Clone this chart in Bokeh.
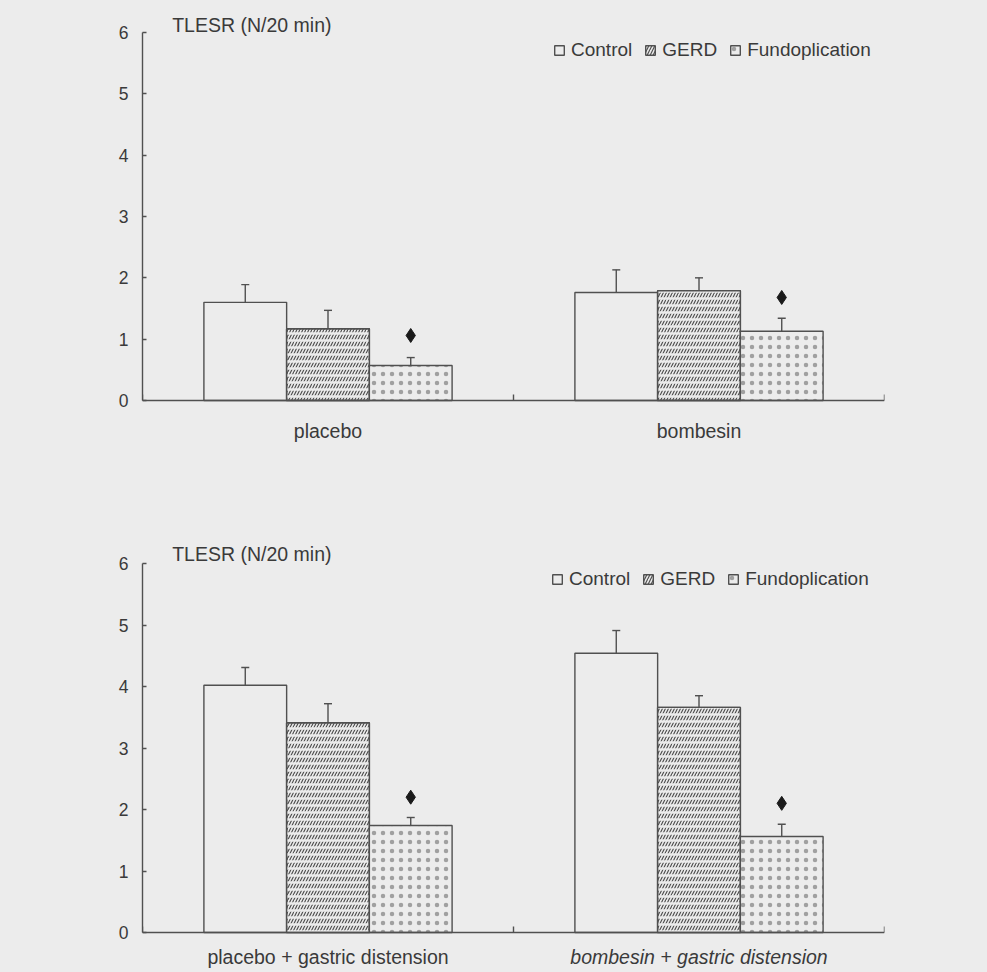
from bokeh.plotting import figure
from bokeh.models import Range1d, FixedTicker, Legend, LegendItem, ColumnDataSource
from bokeh.core.properties import value
from bokeh.layouts import column
from bokeh.embed import file_html
from bokeh.resources import INLINE

# ---------------- data ----------------
series = ["Control", "GERD", "Fundoplication"]
y_ticks = [0, 1, 2, 3, 4, 5, 6]
y_title = "TLESR (N/20 min)"

top_groups = ["placebo", "bombesin"]
top_control = [1.60, 1.76]
top_gerd = [1.17, 1.79]
top_fundo = [0.57, 1.13]
top_control_upper = [1.89, 2.13]
top_gerd_upper = [1.47, 2.00]
top_fundo_upper = [0.70, 1.34]
top_marker = [1.06, 1.68]

bottom_groups = ["placebo + gastric distension", "bombesin + gastric distension"]
bottom_control = [4.02, 4.54]
bottom_gerd = [3.41, 3.66]
bottom_fundo = [1.74, 1.56]
bottom_control_upper = [4.31, 4.91]
bottom_gerd_upper = [3.72, 3.85]
bottom_fundo_upper = [1.87, 1.76]
bottom_marker = [2.20, 2.10]

BG = "#ececec"
INK = "#505050"
TXT = "#3a3a3a"
FONT = "Liberation Sans"
PANEL_H = 486


def make_panel(groups, ctrl, gerd, fundo, ctrl_up, gerd_up, fundo_up, marker,
               left, frame_w, zero_px, px_per_unit, title_px, label_px,
               legend_loc, label_styles):
    y0 = -(PANEL_H - zero_px) / px_per_unit
    y1 = zero_px / px_per_unit
    p = figure(width=987, height=PANEL_H, output_backend="svg", toolbar_location=None,
               x_range=Range1d(0, 2), y_range=Range1d(y0, y1),
               min_border_top=0, min_border_bottom=0,
               min_border_left=left, min_border_right=987 - left - frame_w)
    p.background_fill_color = BG
    p.border_fill_color = BG
    p.outline_line_color = None
    p.grid.visible = False

    n = len(groups)
    w = 0.223
    offs = [-w, 0.0, w]
    xs = [[i + 0.5 + o for i in range(n)] for o in offs]

    r_ctrl = p.vbar(x=xs[0], top=ctrl, width=w, bottom=0, fill_color=BG,
                    line_color=INK, line_width=1.4)
    r_gerd = p.vbar(x=xs[1], top=gerd, width=w, bottom=0, fill_color=BG,
                    line_color=INK, line_width=1.4, hatch_pattern="/",
                    hatch_scale=6, hatch_color="#505050", hatch_weight=1.2)
    p.vbar(x=xs[1], top=gerd, width=w, bottom=0, fill_alpha=0, line_color=None,
           hatch_pattern="-", hatch_scale=7, hatch_color=BG, hatch_weight=2.5)
    p.vbar(x=xs[1], top=gerd, width=w, bottom=0, fill_alpha=0,
           line_color=INK, line_width=1.4)
    r_fundo = p.vbar(x=xs[2], top=fundo, width=w, bottom=0, fill_color=BG,
                     line_color=INK, line_width=1.4, hatch_pattern=".",
                     hatch_scale=9, hatch_color="#a0a0a0", hatch_weight=1.0)

    for x, lo, hi in ((xs[0], ctrl, ctrl_up), (xs[1], gerd, gerd_up), (xs[2], fundo, fundo_up)):
        p.segment(x0=x, y0=lo, x1=x, y1=hi, line_color=INK, line_width=1.4)
        p.scatter(x=x, y=hi, marker="dash", size=8, line_color=INK, line_width=1.4)

    p.scatter(x=xs[2], y=marker, marker="diamond", size=14,
              fill_color="#1a1a1a", line_color="#1a1a1a")

    # y axis
    p.yaxis.ticker = FixedTicker(ticks=y_ticks)
    p.yaxis.bounds = (0, 6)
    p.yaxis.major_tick_in = 4
    p.yaxis.major_tick_out = 0
    p.yaxis.minor_tick_line_color = None
    p.yaxis.major_label_standoff = 14
    p.yaxis.major_label_text_font = FONT
    p.yaxis.major_label_text_font_size = "17.5px"
    p.yaxis.major_label_text_color = TXT

    # x axis drawn at y = 0
    p.xaxis.fixed_location = 0
    p.xaxis.ticker = FixedTicker(ticks=[0, 1, 2])
    p.xaxis.major_tick_in = 6
    p.xaxis.major_tick_out = 0
    p.xaxis.minor_tick_line_color = None
    p.xaxis.major_label_overrides = {0: "", 1: "", 2: ""}
    p.xaxis.major_label_text_font_size = "0px"
    p.xaxis.major_label_standoff = 0
    for ax in (p.xaxis, p.yaxis):
        ax.axis_line_color = INK
        ax.axis_line_width = 1.4
        ax.major_tick_line_color = INK
        ax.major_tick_line_width = 1.4

    # texts
    tsrc = ColumnDataSource(dict(x=[0.08], y=[(zero_px - title_px) / px_per_unit], t=[y_title]))
    p.text(x="x", y="y", text="t", source=tsrc, text_font=value(FONT),
           text_font_size="19.5px", text_color=TXT, text_baseline="middle", text_align="left")
    lsrc = ColumnDataSource(dict(x=[i + 0.5 for i in range(n)],
                                 y=[(zero_px - label_px) / px_per_unit] * n,
                                 t=groups, s=label_styles))
    p.text(x="x", y="y", text="t", source=lsrc, text_font=value(FONT),
           text_font_style="s", text_font_size="19.5px", text_color=TXT,
           text_baseline="middle", text_align="center")

    legend = Legend(items=[LegendItem(label=series[0], renderers=[r_ctrl]),
                           LegendItem(label=series[1], renderers=[r_gerd]),
                           LegendItem(label=series[2], renderers=[r_fundo])],
                    orientation="horizontal", location=legend_loc,
                    glyph_width=12, glyph_height=12, label_standoff=6, spacing=12,
                    padding=0, margin=0, border_line_color=None,
                    background_fill_alpha=0, label_text_font=FONT,
                    label_text_font_size="19px", label_text_color=TXT,
                    label_height=20)
    p.add_layout(legend)
    return p


top = make_panel(top_groups, top_control, top_gerd, top_fundo,
                 top_control_upper, top_gerd_upper, top_fundo_upper, top_marker,
                 142, 745, 400, 61.33, 24, 430, (411, 425), ["normal", "normal"])
bottom = make_panel(bottom_groups, bottom_control, bottom_gerd, bottom_fundo,
                    bottom_control_upper, bottom_gerd_upper, bottom_fundo_upper, bottom_marker,
                    140, 744, 446, 61.5, 67, 470, (409, 382), ["normal", "italic"])

layout = column(top, bottom, spacing=0)
html = file_html(layout, INLINE)
html = html.replace("<head>", "<head><style>body{background-color:#ececec;}</style>", 1)
open("out.html", "w").write(html)
